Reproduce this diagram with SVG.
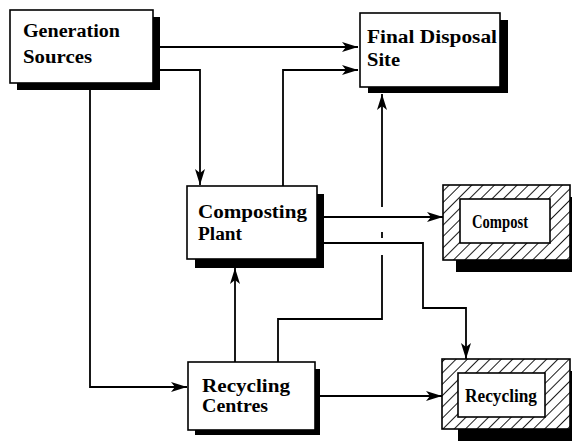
<svg xmlns="http://www.w3.org/2000/svg" width="572" height="441" viewBox="0 0 572 441">
  <style>
    .box { fill: #fff; stroke: #000; stroke-width: 1.6; }
    .shadow { fill: #000; }
    .lbl { font-family: 'Liberation Serif', 'DejaVu Serif', serif; font-weight: 700; font-size: 18px; fill: #000; }
    .conn { fill: none; stroke: #000; stroke-width: 1.8; }
  </style>
  <defs>
    <marker id="arrow" markerUnits="userSpaceOnUse" markerWidth="18" markerHeight="12" refX="16" refY="5" orient="auto">
      <path d="M0,0 L16,5 L0,10 L4,5 z" fill="#000"/>
    </marker>
    <pattern id="hatch" patternUnits="userSpaceOnUse" width="8" height="8" patternTransform="rotate(45)">
      <rect width="8" height="8" fill="#fff"/>
      <line x1="0" y1="0" x2="0" y2="8" stroke="#000" stroke-width="1.8"/>
    </pattern>
  </defs>

  <g id="connectors">
    <path class="conn" d="M160,47 H358" marker-end="url(#arrow)"/>
    <path class="conn" d="M160,70 H200 V185" marker-end="url(#arrow)"/>
    <path class="conn" d="M283,186 V70 H358" marker-end="url(#arrow)"/>
    <path class="conn" d="M90,90 V387 H187" marker-end="url(#arrow)"/>
    <path class="conn" d="M235,362 V268" marker-end="url(#arrow)"/>
    <path class="conn" d="M278,362 V319 H382 V255"/>
    <path class="conn" d="M382,238 V232"/>
    <path class="conn" d="M382,207 V94" marker-end="url(#arrow)"/>
    <path class="conn" d="M324,217 H443" marker-end="url(#arrow)"/>
    <path class="conn" d="M324,243 H423 V308 H466 V359" marker-end="url(#arrow)"/>
    <path class="conn" d="M320,396 H442" marker-end="url(#arrow)"/>
  </g>

  <g id="generation-sources">
    <rect class="shadow" x="17" y="17" width="143" height="73"/>
    <rect class="box" x="10" y="10" width="143" height="73"/>
    <text class="lbl" x="23" y="37" textLength="97" lengthAdjust="spacingAndGlyphs">Generation</text>
    <text class="lbl" x="23" y="63" textLength="69" lengthAdjust="spacingAndGlyphs">Sources</text>
  </g>

  <g id="final-disposal-site">
    <rect class="shadow" x="368" y="20" width="140" height="73"/>
    <rect class="box" x="360" y="13" width="140" height="74"/>
    <text class="lbl" x="367" y="43" textLength="130" lengthAdjust="spacingAndGlyphs">Final Disposal</text>
    <text class="lbl" x="367" y="66" textLength="33" lengthAdjust="spacingAndGlyphs">Site</text>
  </g>

  <g id="composting-plant">
    <rect class="shadow" x="195" y="194" width="129" height="74"/>
    <rect class="box" x="187" y="186" width="130" height="73"/>
    <text class="lbl" x="198" y="218" textLength="109" lengthAdjust="spacingAndGlyphs">Composting</text>
    <text class="lbl" x="198" y="240" textLength="44" lengthAdjust="spacingAndGlyphs">Plant</text>
  </g>

  <g id="recycling-centres">
    <rect class="shadow" x="195" y="369" width="125" height="66"/>
    <rect class="box" x="188" y="362" width="127" height="68"/>
    <text class="lbl" x="202" y="392" textLength="88" lengthAdjust="spacingAndGlyphs">Recycling</text>
    <text class="lbl" x="202" y="412" textLength="66" lengthAdjust="spacingAndGlyphs">Centres</text>
  </g>

  <g id="compost">
    <rect class="shadow" x="456" y="197" width="120" height="75"/>
    <rect x="443" y="185" width="127" height="75" fill="url(#hatch)" stroke="#000" stroke-width="1.6"/>
    <rect class="box" x="460" y="199" width="90" height="44"/>
    <text class="lbl" x="472" y="228" font-size="17" textLength="56" lengthAdjust="spacingAndGlyphs">Compost</text>
  </g>

  <g id="recycling">
    <rect class="shadow" x="458" y="371" width="120" height="72"/>
    <rect x="442" y="359" width="128" height="70" fill="url(#hatch)" stroke="#000" stroke-width="1.6"/>
    <rect class="box" x="458" y="373" width="87" height="44"/>
    <text class="lbl" x="465" y="402" font-size="17" textLength="72" lengthAdjust="spacingAndGlyphs">Recycling</text>
  </g>
</svg>
